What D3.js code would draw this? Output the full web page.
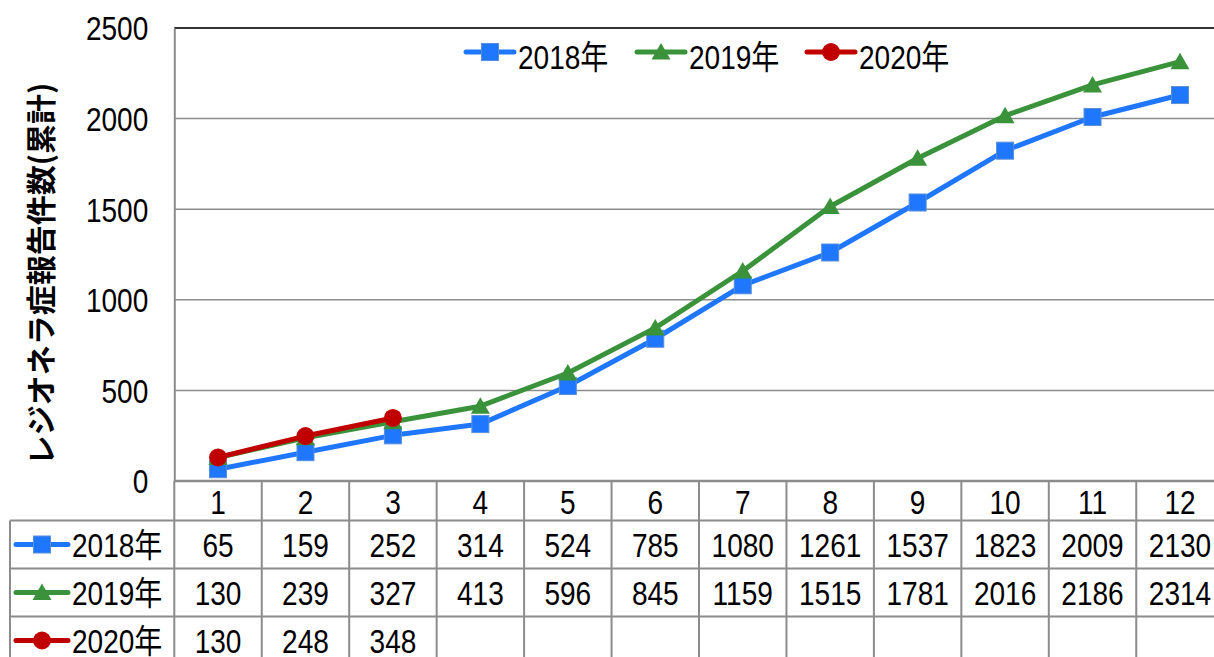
<!DOCTYPE html>
<html><head><meta charset="utf-8">
<script src="https://cdn.jsdelivr.net/npm/d3@7"></script>
<style>
html,body{margin:0;padding:0;background:#fff;}
svg{display:block;}
.t{font-family:'Liberation Sans','Noto Sans CJK JP',sans-serif;font-size:33px;fill:#000;}
</style></head>
<body>
<svg id="c" width="1214" height="657"></svg>
<script>
const months = ["1","2","3","4","5","6","7","8","9","10","11","12"];
const series = ["2018年","2019年","2020年"];
const v2018 = [65,159,252,314,524,785,1080,1261,1537,1823,2009,2130];
const v2019 = [130,239,327,413,596,845,1159,1515,1781,2016,2186,2314];
const v2020 = [130,248,348];
const yTicks = [0,500,1000,1500,2000,2500];
const yTitle = "レジオネラ症報告件数(累計)";

const values = [v2018, v2019, v2020];
const colors = ["#1f77ff","#3a923a","#c00000"];
const shapes = ["square","triangle","circle"];
const SX = 0.85;

const svg = d3.select("#c");
const left = 174.3, colW = 87.45;
const x = d3.scaleBand().domain(months).range([left, left + colW*12]);
const y = d3.scaleLinear().domain([0,2500]).range([481,28]);
const gridC = "#8c8c8c";

function txt(g, tx, ty, s, anchor){
  return g.append("text").attr("class","t")
    .attr("transform",`translate(${tx},${ty}) scale(${SX},1)`)
    .attr("text-anchor",anchor||"start").attr("dominant-baseline","central").text(s);
}

// gridlines
svg.append("g").selectAll("line").data(yTicks.filter(d=>d>0 && d<2500)).join("line")
  .attr("x1", left).attr("x2", 1214).attr("y1", d=>y(d)).attr("y2", d=>y(d))
  .attr("stroke", gridC).attr("stroke-width", 1.5);
// top border
svg.append("line").attr("x1", left).attr("x2", 1214).attr("y1", y(2500)).attr("y2", y(2500))
  .attr("stroke", "#333").attr("stroke-width", 2);
// y axis
const yAxis = d3.axisLeft(y).tickValues(yTicks).tickSize(0).tickFormat(d3.format("d")).tickPadding(26);
const ga = svg.append("g").attr("transform", `translate(${left},0)`).call(yAxis);
ga.select(".domain").attr("stroke", gridC).attr("stroke-width", 2);
ga.selectAll(".tick text").each(function(){
  d3.select(this).attr("class","t").attr("font-size",null).attr("font-family",null).attr("fill","#000")
   .attr("x",null).attr("dy",null).attr("dominant-baseline","central")
   .attr("transform",`translate(-26,0) scale(${SX},1)`);
});

// y title
svg.append("text").attr("transform", "translate(39,274) rotate(-90)")
  .attr("text-anchor","middle").attr("dominant-baseline","central")
  .style("font-family","'Noto Sans CJK JP',sans-serif").style("font-size","30px").style("font-weight","bold")
  .text(yTitle);

// table
const rowTop = [481, 520.5, 568.5, 616.5];
const tb = svg.append("g");
tb.append("line").attr("x1", left).attr("x2",1214).attr("y1",481).attr("y2",481).attr("stroke",gridC).attr("stroke-width",2.5);
[520.5,568.5,616.5].forEach(yy=>{
  tb.append("line").attr("x1",10).attr("x2",1214).attr("y1",yy).attr("y2",yy).attr("stroke",gridC).attr("stroke-width",2);
});
tb.selectAll("line.v").data(d3.range(13)).join("line").attr("class","v")
  .attr("x1", i=>left + i*colW).attr("x2", i=>left + i*colW)
  .attr("y1",481).attr("y2",657).attr("stroke",gridC).attr("stroke-width",2);
tb.append("line").attr("x1",10).attr("x2",10).attr("y1",520.5).attr("y2",657).attr("stroke",gridC).attr("stroke-width",2);

months.forEach(m=>txt(tb, x(m)+x.bandwidth()/2, 502, m, "middle"));

function marker(g, shape, color, cx, cy){
  if(shape==="square"){
    g.append("rect").attr("x",cx-8.5).attr("y",cy-8.5).attr("width",17).attr("height",17)
      .attr("fill",color).attr("stroke","#5a8fd8").attr("stroke-width",1);
  } else if(shape==="triangle"){
    g.append("path").attr("d",`M${cx},${cy-9}L${cx+9.5},${cy+7.5}L${cx-9.5},${cy+7.5}Z`).attr("fill",color);
  } else {
    g.append("circle").attr("cx",cx).attr("cy",cy).attr("r",9).attr("fill",color);
  }
}

series.forEach((s,i)=>{
  const cy = rowTop[i+1] + 24;
  const g = tb.append("g");
  g.append("line").attr("x1",16).attr("x2",68).attr("y1",cy).attr("y2",cy)
    .attr("stroke",colors[i]).attr("stroke-width",5).attr("stroke-linecap","round");
  marker(g, shapes[i], colors[i], 42, cy);
  txt(g, 72, cy+1, s, "start");
  values[i].forEach((d,j)=>txt(g, x(months[j])+x.bandwidth()/2, cy+1, d, "middle"));
});

// lines
const line = d3.line().x((d,j)=>x(months[j])+x.bandwidth()/2).y(d=>y(d));
series.forEach((s,i)=>{
  const g = svg.append("g");
  g.append("path").datum(values[i]).attr("d",line).attr("fill","none")
    .attr("stroke",colors[i]).attr("stroke-width",5).attr("stroke-linejoin","round");
  values[i].forEach((v,j)=>marker(g, shapes[i], colors[i], x(months[j])+x.bandwidth()/2, y(v)));
});

// legend
const lx = [466, 637, 807];
series.forEach((s,i)=>{
  const g = svg.append("g");
  const cy = 52;
  g.append("line").attr("x1",lx[i]).attr("x2",lx[i]+48).attr("y1",cy).attr("y2",cy)
    .attr("stroke",colors[i]).attr("stroke-width",5).attr("stroke-linecap","round");
  marker(g, shapes[i], colors[i], lx[i]+24, cy);
  txt(g, lx[i]+52, cy+5, s, "start");
});
</script>
</body></html>
